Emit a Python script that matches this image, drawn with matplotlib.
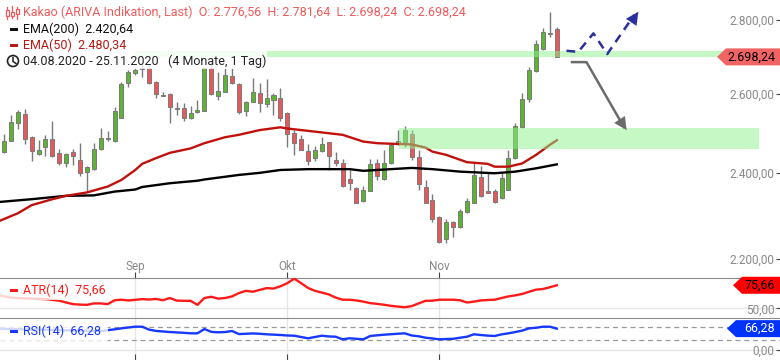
import numpy as np
import matplotlib.pyplot as plt
from matplotlib.patches import Polygon, Rectangle, Circle
from matplotlib.ticker import FixedLocator, FuncFormatter, NullLocator
from matplotlib.transforms import blended_transform_factory, Affine2D, IdentityTransform

plt.rcParams['font.family'] = ['Roboto', 'DejaVu Sans']

# daily candles, 05.08.2020 .. 25.11.2020 (index 1..81)
opens = [2450, 2479, 2524, 2547, 2488, 2445, 2464, 2483, 2448, 2425,
         2451, 2432, 2401, 2409, 2458, 2483, 2479, 2538, 2628, 2655,
         2666, 2667, 2630, 2594, 2599, 2563, 2562, 2537, 2552, 2556,
         2668, 2595, 2605, 2647, 2626, 2555, 2579, 2601, 2572, 2582,
         2588, 2550, 2498, 2483, 2453, 2436, 2454, 2475, 2432, 2424,
         2385, 2363, 2332, 2357, 2424, 2384, 2423, 2470, 2477, 2497,
         2438, 2367, 2336, 2295, 2245, 2283, 2273, 2307, 2329, 2389,
         2356, 2356, 2340, 2360, 2436, 2514, 2586, 2660, 2719, 2761,
         2776.56]
highs = [2495, 2545, 2557, 2560, 2490, 2481, 2493, 2530, 2458, 2448,
         2459, 2473, 2417, 2474, 2511, 2504, 2565, 2631, 2662, 2667,
         2681, 2678, 2632, 2604, 2601, 2578, 2576, 2568, 2583, 2671,
         2685, 2658, 2668, 2668, 2628, 2580, 2641, 2628, 2639, 2602,
         2615, 2552, 2505, 2493, 2470, 2465, 2489, 2477, 2451, 2433,
         2407, 2365, 2368, 2433, 2433, 2456, 2474, 2507, 2516, 2507,
         2456, 2383, 2350, 2297, 2291, 2285, 2315, 2341, 2423, 2417,
         2401, 2361, 2399, 2456, 2525, 2601, 2671, 2746, 2777, 2822,
         2781.64]
lows = [2448, 2478, 2509, 2470, 2430, 2444, 2441, 2439, 2419, 2414,
        2419, 2392, 2355, 2407, 2456, 2479, 2476, 2536, 2618, 2649,
        2644, 2626, 2589, 2593, 2524, 2545, 2529, 2534, 2550, 2554,
        2597, 2583, 2603, 2626, 2547, 2542, 2577, 2552, 2566, 2545,
        2530, 2463, 2444, 2455, 2419, 2428, 2452, 2408, 2417, 2367,
        2358, 2328, 2331, 2356, 2383, 2383, 2422, 2469, 2464, 2432,
        2360, 2328, 2283, 2235, 2235, 2250, 2271, 2304, 2328, 2342,
        2351, 2327, 2338, 2358, 2434, 2510, 2577, 2658, 2717, 2754,
        2698.24]
closes = [2479, 2527, 2552, 2483, 2454, 2456, 2484, 2440, 2424, 2446,
          2441, 2400, 2415, 2458, 2486, 2486, 2556, 2626, 2657, 2664,
          2668, 2628, 2598, 2597, 2565, 2560, 2537, 2550, 2557, 2668,
          2598, 2607, 2649, 2627, 2552, 2578, 2603, 2576, 2588, 2596,
          2538, 2495, 2474, 2456, 2430, 2456, 2472, 2440, 2425, 2369,
          2376, 2329, 2358, 2421, 2393, 2424, 2469, 2478, 2506, 2438,
          2372, 2329, 2290, 2237, 2283, 2273, 2309, 2332, 2394, 2345,
          2352, 2330, 2387, 2436, 2516, 2586, 2662, 2734, 2768, 2764,
          2698.24]

ema50_idx = [0, 3, 5, 8, 10, 13, 16, 18, 20, 21, 23, 25, 28, 30, 33, 35, 38, 41,
             42, 46, 50, 53, 55, 58, 60, 62, 63, 65, 68, 71, 72, 74, 76, 78, 80, 81]
ema50 = [2284, 2304, 2323, 2337, 2345, 2353, 2367, 2383, 2407, 2422, 2436, 2449,
         2460, 2473, 2488, 2494, 2506, 2513, 2510, 2502, 2494, 2477, 2473, 2471,
         2470, 2462, 2452, 2444, 2426, 2422, 2415, 2415, 2423, 2444, 2469, 2480.34]
ema200_idx = [0, 5, 10, 14, 17, 20, 21, 25, 29, 30, 35, 38, 41, 45, 51, 53, 56,
              60, 63, 67, 72, 75, 78, 81]
ema200 = [2330, 2337, 2345, 2346, 2355, 2360, 2366, 2375, 2381, 2384, 2395, 2400,
          2407, 2409, 2409, 2405, 2408, 2412, 2409, 2403, 2399, 2403, 2411, 2420.64]

atr_idx = [0, 1, 2, 4, 7, 9, 10, 11, 12, 13, 14, 15, 16, 17, 18, 19, 20, 21, 22,
           23, 24, 25, 26, 27, 28, 29, 30, 31, 32, 33, 34, 35, 36, 37, 38, 39, 40,
           41, 42, 43, 44, 45, 46, 47, 48, 49, 50, 51, 52, 53, 54, 55, 56, 57, 58,
           59, 60, 61, 62, 63, 64, 65, 66, 67, 68, 69, 70, 71, 72, 73, 74, 75, 76,
           77, 78, 79, 80, 81]
atr = [65, 63.5, 62, 61, 60.3, 58.5, 56.5, 54.7, 54.2, 53.9, 55.5, 55.5, 54.7,
       59, 59.6, 58.8, 59.5, 60.3, 59.8, 60.5, 59, 61.5, 58.6, 58.4, 58.4, 53.9,
       61.5, 62.9, 60.8, 61.5, 63.3, 67, 69.5, 68.5, 70.5, 72.5, 72, 74.5, 78,
       83, 78, 72.7, 69.5, 67.5, 65.5, 62, 59.6, 59.6, 58.8, 57.5, 55.8, 55, 54,
       52.8, 52, 51.3, 52.5, 55.5, 58.4, 58.5, 59.6, 59.6, 59.6, 59, 56.5, 57.5,
       58.8, 59.3, 59.6, 61.5, 63.3, 64.5, 66, 68.5, 70.8, 71.5, 73.5, 75.66]

rsi_idx = [0, 1, 2, 4, 8, 12, 15, 17, 18, 20, 21, 22, 23, 25, 27, 28, 29, 30, 31,
           32, 33, 34, 35, 37, 38, 39, 41, 42, 43, 45, 47, 48, 49, 50, 51, 52, 53,
           54, 55, 56, 57, 58, 59, 60, 61, 62, 63, 64, 65, 66, 67, 68, 69, 70, 71,
           72, 73, 74, 75, 76, 77, 78, 79, 80, 81]
rsi = [67, 65.5, 65, 64, 62, 60, 58.7, 64, 67.3, 72.4, 72.4, 63, 59, 55.5, 53,
       51.4, 51.4, 65, 56, 54.6, 55.5, 58.7, 49, 51, 50, 48.3, 46, 44.5, 43.8,
       35.6, 43.8, 41.5, 40.6, 32.4, 35.6, 34, 32.4, 42.9, 45, 47, 48.5, 50, 51.4,
       44.5, 42, 37.5, 35, 32.4, 33.3, 34, 37.5, 40.6, 48.3, 46, 44, 42.9, 48,
       51.4, 55.5, 60, 67.3, 69, 72.4, 72.4, 66.28]

month_idx = [-1, 20, 42, 64]
month_lbl = ['Aug', 'Sep', 'Okt', 'Nov']

# green zones (from index, price low, price high)
zones = [(20, 2699, 2715), (58.1, 2458, 2511)]
zone_end = 110.2
# drawn scenarios
blue_path_i = [82.4, 84.1, 86.3, 88.3, 92.8]
blue_path_p = [2715, 2712, 2763, 2706, 2824]
gray_path_i = [83.2, 85.3, 91.1]
gray_path_p = [2684, 2684, 2506]

GREEN = '#5cb531'
RED = '#e8585a'
EMA50_C = '#c0120c'
ATR_C = '#ff1a1a'
RSI_C = '#1638ff'
LBL = '#888888'


def de(v):
    s = f"{v:,.2f}"
    return s.replace(",", "X").replace(".", ",").replace("X", ".")


fig = plt.figure(figsize=(7.8, 3.6), dpi=100)
ax = fig.add_axes([0, 1 - 277.5 / 360, 1, 277.5 / 360])
ax_atr = fig.add_axes([0, 42 / 360, 1, 40.5 / 360])
ax_rsi = fig.add_axes([0, 0, 1, 42 / 360])

XL = (0.42, 113.3)
for a in (ax, ax_atr, ax_rsi):
    a.set_xlim(*XL)
    for s in a.spines.values():
        s.set_visible(False)
    a.yaxis.tick_right()
    a.tick_params(axis='y', direction='in', length=3, pad=-4, labelsize=8.5,
                  labelcolor=LBL, color='#444')
    a.set_xticks(month_idx[1:])
    a.tick_params(axis='x', direction='in', length=4, color='#444', labelbottom=False)
    a.set_facecolor('none')

# ---- main panel
ax.set_yscale('log')
ax.set_ylim(2159.3, 2857.8)
ax.yaxis.set_major_locator(FixedLocator([2200, 2400, 2600, 2800]))
ax.yaxis.set_minor_locator(NullLocator())
ax.yaxis.set_major_formatter(FuncFormatter(lambda v, p: de(v)))

ci = np.arange(1, len(opens) + 1)
o = np.array(opens)
c = np.array(closes)
col = np.where(c >= o, GREEN, RED)
ax.vlines(ci, lows, highs, color='#7a7a7a', lw=1, zorder=3)
ax.bar(ci, np.maximum(np.abs(c - o), 1.5), bottom=np.minimum(o, c), width=0.58,
       color=col, edgecolor='#7a7a7a', lw=0.7, zorder=4)

ax.plot(ema200_idx, ema200, color='black', lw=1.7, zorder=5)
ax.plot(ema50_idx, ema50, color=EMA50_C, lw=1.7, zorder=5)

for x0, lo, hi in zones:
    ax.add_patch(Rectangle((x0, lo), zone_end - x0, hi - lo, facecolor='#8ef28e',
                           alpha=0.5, lw=0, zorder=6))

ax.plot(blue_path_i[:-1] + [blue_path_i[-1] - 0.6], blue_path_p[:-1] + [blue_path_p[-1] - 9],
        color='#2a2f9a', lw=1.8, ls=(0, (3.5, 2.5)), zorder=7)
ax.annotate('', xy=(blue_path_i[-1], blue_path_p[-1]),
            xytext=(blue_path_i[-2] + 2.5, blue_path_p[-2] + 60),
            arrowprops=dict(arrowstyle='-|>,head_length=0.9,head_width=0.45',
                            color='#2a2f9a', lw=0.1, shrinkA=0, shrinkB=0), zorder=7)
ax.plot(gray_path_i[:-1] + [gray_path_i[-1] - 0.4], gray_path_p[:-1] + [gray_path_p[-1] + 8],
        color='#6b6b6b', lw=1.8, zorder=7)
ax.annotate('', xy=(gray_path_i[-1], gray_path_p[-1]),
            xytext=(gray_path_i[-1] - 1.5, gray_path_p[-1] + 40),
            arrowprops=dict(arrowstyle='-|>,head_length=0.9,head_width=0.45',
                            color='#6b6b6b', lw=0.1, shrinkA=0, shrinkB=0), zorder=7)

tr = blended_transform_factory(ax.transData, ax.transAxes)
for mi, ml in zip(month_idx, month_lbl):
    ax.text(mi, 0.038, ml, transform=tr, ha='center', va='center', fontsize=8.5,
            color=LBL, clip_on=False)

# ---- ATR panel
ax_atr.set_ylim(39.3, 84.3)
ax_atr.set_yticks([50])
ax_atr.yaxis.set_major_formatter(FuncFormatter(lambda v, p: de(v)))
ax_atr.spines['top'].set_visible(True)
ax_atr.spines['top'].set_color('#8c8c8c')
ax_atr.axhline(50, color='#e6e6e6', lw=1, zorder=0)
ax_atr.plot(atr_idx, atr, color=ATR_C, lw=1.7, zorder=3)

# ---- RSI panel
ax_rsi.set_ylim(-33.3, 100)
ax_rsi.set_yticks([0])
ax_rsi.yaxis.set_major_formatter(FuncFormatter(lambda v, p: de(v)))
ax_rsi.spines['top'].set_visible(True)
ax_rsi.spines['top'].set_color('#8c8c8c')
ax_rsi.axhline(0, color='#e6e6e6', lw=1, zorder=0)
for lvl in (30, 70):
    ax_rsi.axhline(lvl, color='#9a9a9a', lw=0.9, ls=(0, (4, 3)), zorder=1)
ax_rsi.plot(rsi_idx, rsi, color=RSI_C, lw=1.7, zorder=3)

for a in (ax_atr, ax_rsi):
    for mi in month_idx[1:]:
        a.axvline(mi, color='#e6e6e6', lw=1, zorder=0)
ax_atr.tick_params(axis='x', length=0)

for a in (ax, ax_atr, ax_rsi):
    for lab in a.get_yticklabels():
        lab.set_horizontalalignment('right')

# ---- labels / legend boxes (pixel helpers, y from top)
PIX = Affine2D().scale(1, -1).translate(0, 360)


def box(x, y, w, h):
    fig.add_artist(Rectangle((x, y), w, h, transform=PIX, facecolor='white',
                             alpha=0.8, lw=0, zorder=10))


def txt(x, y, s, color, **kw):
    fig.text(x / 780, 1 - y / 360, s, color=color, va='center', ha='left',
             fontsize=9, zorder=12, **kw)


box(0, 0, 267, 69)
box(0, 281, 108, 19)
box(0, 322, 108, 19)

title = ("Kakao (ARIVA Indikation, Last)  O: " + de(opens[-1]) + "  H: " + de(highs[-1])
         + "  L: " + de(lows[-1]) + "  C: " + de(closes[-1]))
txt(23, 12, title, '#f05a5a')
txt(23, 29, "EMA(200)  " + de(ema200[-1]), '#111111')
txt(23, 45, "EMA(50)  " + de(ema50[-1]), '#b51a14')
txt(23, 61, "04.08.2020 - 25.11.2020   (4 Monate, 1 Tag)", '#222222')
txt(23, 290.5, "ATR(14)  " + de(atr[-1]), ATR_C)
txt(23, 331.5, "RSI(14)  " + de(rsi[-1]), RSI_C)

# legend markers
for y, cc in ((29, '#111111'), (45, '#b51a14'), (290.5, ATR_C), (331.5, RSI_C)):
    fig.add_artist(Rectangle((10, y - 1.5), 8, 3, transform=PIX, color=cc, lw=0, zorder=12))
# candle icon
for x, y0, y1, b0, b1 in ((7, 7, 19, 10, 16), (12, 6, 18, 12, 16), (17, 7, 19, 9, 14)):
    fig.add_artist(plt.Line2D([x, x], [y0, y1], transform=PIX, color='#f05a5a', lw=0.9, zorder=12))
    fig.add_artist(Rectangle((x - 1.5, b0), 3, b1 - b0, transform=PIX, facecolor='white',
                             edgecolor='#f05a5a', lw=0.9, zorder=13))
# clock icon
fig.add_artist(Circle((13, 61), 5.5, transform=PIX, fill=False, edgecolor='#222', lw=1.2, zorder=12))
fig.add_artist(plt.Line2D([13, 13, 16], [57.5, 61.5, 63.5], transform=PIX, color='#222', lw=1.1, zorder=12))

# value tags on the right
fig.canvas.draw()


def tag(a, val, face, tcol, left, text):
    yc = 360 - a.transData.transform((1, val))[1]
    h = 8.5
    pts = [(left, yc), (left + 9, yc - h), (780, yc - h), (780, yc + h), (left + 9, yc + h)]
    fig.add_artist(Polygon(pts, closed=True, transform=PIX, facecolor=face, lw=0, zorder=14))
    fig.text(775 / 780, 1 - yc / 360, text, color=tcol, ha='right', va='center',
             fontsize=9, zorder=15)


tag(ax, closes[-1], '#f26464', 'black', 717, de(closes[-1]))
tag(ax_atr, atr[-1], '#ff0000', 'black', 733, de(atr[-1]))
tag(ax_rsi, rsi[-1], '#0033ff', 'white', 727, de(rsi[-1]))

fig.savefig('out.png', dpi=100)
